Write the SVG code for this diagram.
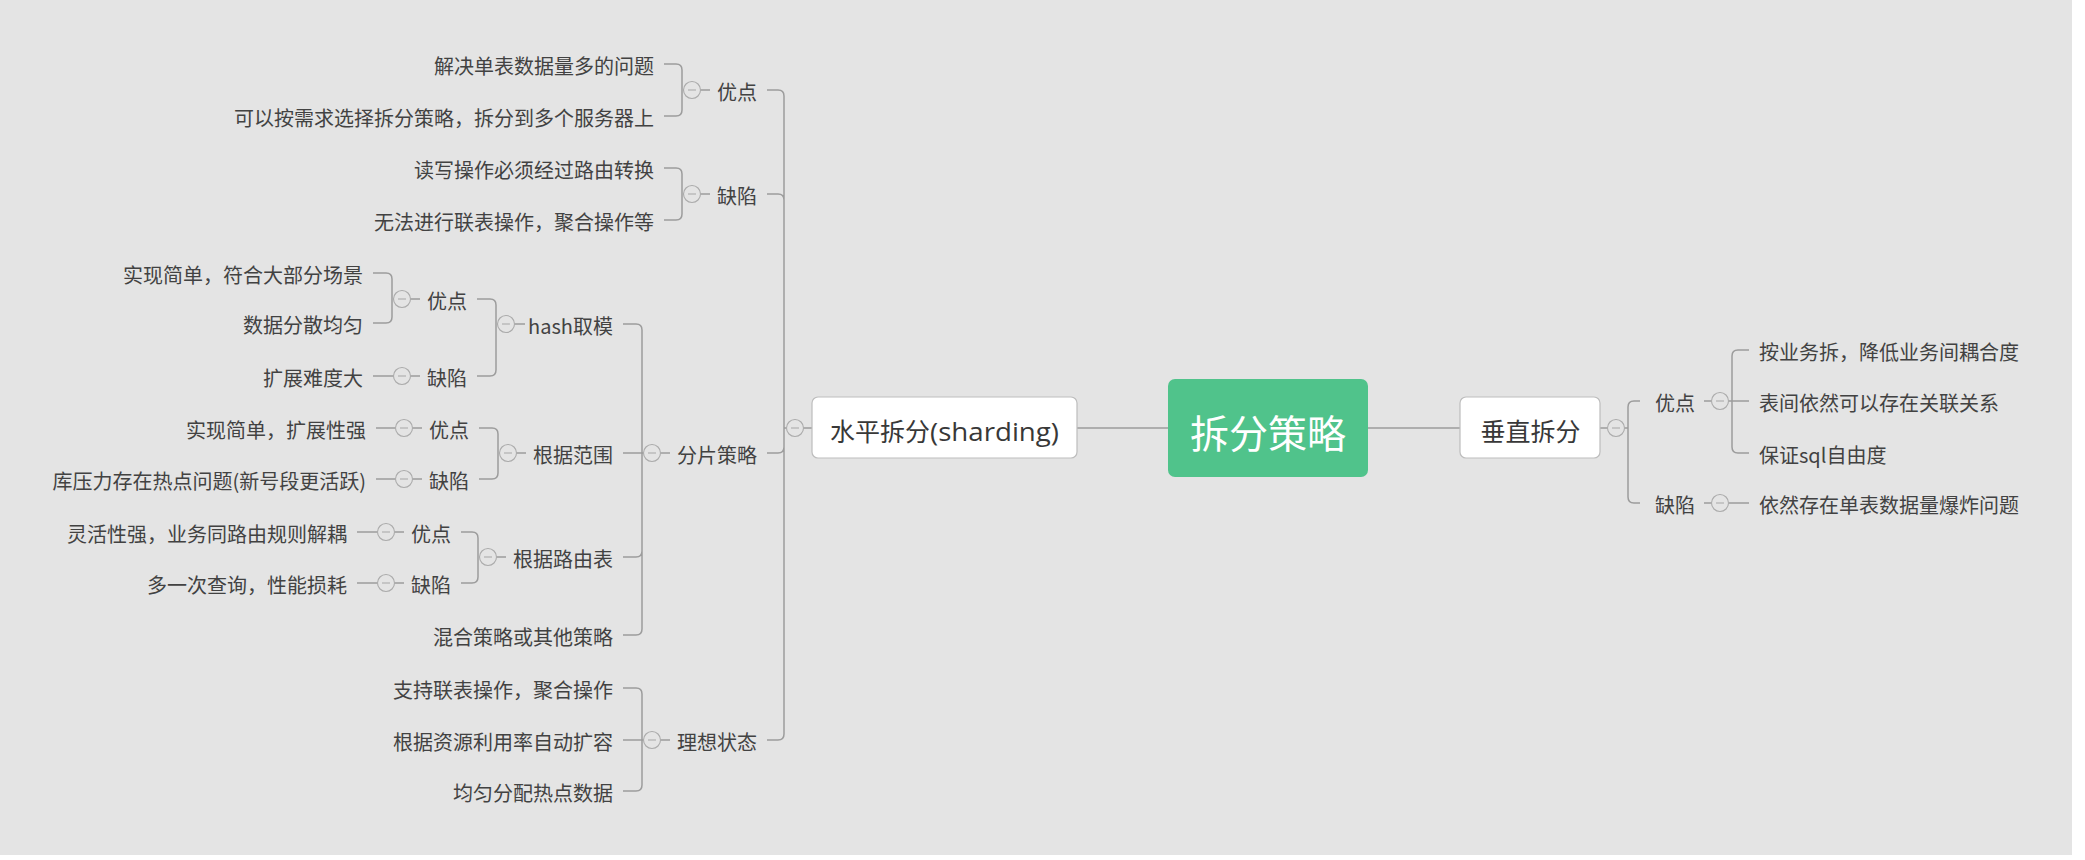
<svg xmlns="http://www.w3.org/2000/svg" width="2085" height="860" viewBox="0 0 2085 860">
<defs>
<style>
.t{font-family:'Noto Sans CJK SC','Noto Sans',sans-serif;font-size:20px;fill:#424242}
.e{text-anchor:end}
.box{fill:#fff;stroke:#bdbdbd;stroke-width:1.2}
.bt{font-family:'Noto Sans CJK SC','Noto Sans',sans-serif;font-size:25px;fill:#383838;text-anchor:middle}
.c{fill:#e4e4e4;stroke:#ababab;stroke-width:1.1}
.m{stroke:#ababab;stroke-width:1.1}
#links path{fill:none;stroke:#9c9c9c;stroke-width:1.5}
</style>
<g id="col"><circle class="c" cx="0" cy="0" r="8.5"/><path class="m" d="M-4 0H4"/></g>
</defs>
<rect x="0" y="0" width="2085" height="860" fill="#fff"/>
<rect x="0" y="0" width="2072" height="855" fill="#e4e4e4"/>

<g id="links">
<!-- center -->
<path d="M1077 428H1168M1368 428H1460"/>
<!-- main left trunk -->
<path d="M767 90H778Q784 90 784 96V428M767 194H778Q784 194 784 200V428M767 453H778Q784 453 784 447V428M767 740H778Q784 740 784 734V428M784 428H786.5M803.5 428H812"/>
<!-- A1 youdian -->
<path d="M664 64H676Q682 64 682 70V90M664 116H676Q682 116 682 110V90M700.5 90H710"/>
<!-- A2 quexian -->
<path d="M664 168H676Q682 168 682 174V194M664 220H676Q682 220 682 214V194M700.5 194H710"/>
<!-- A3 fenpian -->
<path d="M623 324H636Q642 324 642 330V453M623 453H643.5M623 557H636Q642 557 642 551V453M623 635H636Q642 635 642 629V453M660.5 453H670"/>
<!-- B1 hash -->
<path d="M477 299H490Q496 299 496 305V324M477 376H490Q496 376 496 370V324M514.5 324H525"/>
<path d="M373 273H386Q392 273 392 279V299M373 323H386Q392 323 392 317V299M410.5 299H420"/>
<path d="M373 376H393.5M410.5 376H420"/>
<!-- B2 range -->
<path d="M479 428H492Q498 428 498 434V453M479 479H492Q498 479 498 473V453M516.5 453H526"/>
<path d="M376 428H395.5M412.5 428H422M376 479H395.5M412.5 479H422"/>
<!-- B3 route -->
<path d="M461 532H472Q478 532 478 538V557M461 583H472Q478 583 478 577V557M496.5 557H506"/>
<path d="M357 532H377.5M394.5 532H404M357 583H377.5M394.5 583H404"/>
<!-- A4 ideal -->
<path d="M623 688H636Q642 688 642 694V740M623 740H643.5M623 791H636Q642 791 642 785V740M660.5 740H670"/>
<!-- right side -->
<path d="M1600 428H1607.5M1624.5 428H1628M1640 401H1634Q1628 401 1628 407V428M1640 503H1634Q1628 503 1628 497V428"/>
<path d="M1704 401H1711.5M1728.5 401H1732M1749 350H1738Q1732 350 1732 356V401M1749 401H1728.5M1749 453H1738Q1732 453 1732 447V401"/>
<path d="M1704 503H1711.5M1728.5 503H1749"/>
</g>

<g id="root">
<rect x="1168" y="379" width="200" height="98" rx="7" fill="#50c38b"/>
<text x="1268" y="448" font-family="'Noto Sans CJK SC','Noto Sans',sans-serif" font-size="39" fill="#fff" text-anchor="middle">拆分策略</text>
</g>

<g id="n-horizontal">
<rect class="box" x="812" y="397" width="265" height="61" rx="6"/>
<text class="bt" x="944.5" y="441"><tspan>水平拆分</tspan><tspan font-family="'Open Sans','Noto Sans',sans-serif" textLength="129" lengthAdjust="spacingAndGlyphs">(sharding)</tspan></text>
<use href="#col" x="795" y="428"/>
</g>

<g id="n-vertical">
<rect class="box" x="1460" y="397" width="140" height="61" rx="6"/>
<text class="bt" x="1530.5" y="441">垂直拆分</text>
<use href="#col" x="1616" y="428"/>
</g>

<!-- left branch -->
<g id="n-h-adv"><text class="t e" x="757" y="100">优点</text><use href="#col" x="692" y="90"/></g>
<g id="n-h-adv-1"><text class="t e" x="654" y="74">解决单表数据量多的问题</text></g>
<g id="n-h-adv-2"><text class="t e" x="654" y="126">可以按需求选择拆分策略，拆分到多个服务器上</text></g>

<g id="n-h-dis"><text class="t e" x="757" y="204">缺陷</text><use href="#col" x="692" y="194"/></g>
<g id="n-h-dis-1"><text class="t e" x="654" y="178">读写操作必须经过路由转换</text></g>
<g id="n-h-dis-2"><text class="t e" x="654" y="230">无法进行联表操作，聚合操作等</text></g>

<g id="n-shard"><text class="t e" x="757" y="463">分片策略</text><use href="#col" x="652" y="453"/></g>

<g id="n-hash"><text class="t e" x="613" y="334">hash取模</text><use href="#col" x="506" y="324"/></g>
<g id="n-hash-adv"><text class="t e" x="467" y="309">优点</text><use href="#col" x="402" y="299"/></g>
<g id="n-hash-adv-1"><text class="t e" x="363" y="283">实现简单，符合大部分场景</text></g>
<g id="n-hash-adv-2"><text class="t e" x="363" y="333">数据分散均匀</text></g>
<g id="n-hash-dis"><text class="t e" x="467" y="386">缺陷</text><use href="#col" x="402" y="376"/></g>
<g id="n-hash-dis-1"><text class="t e" x="363" y="386">扩展难度大</text></g>

<g id="n-range"><text class="t e" x="613" y="463">根据范围</text><use href="#col" x="508" y="453"/></g>
<g id="n-range-adv"><text class="t e" x="469" y="438">优点</text><use href="#col" x="404" y="428"/></g>
<g id="n-range-adv-1"><text class="t e" x="366" y="438">实现简单，扩展性强</text></g>
<g id="n-range-dis"><text class="t e" x="469" y="489">缺陷</text><use href="#col" x="404" y="479"/></g>
<g id="n-range-dis-1"><text class="t e" x="366" y="489">库压力存在热点问题(新号段更活跃)</text></g>

<g id="n-route"><text class="t e" x="613" y="567">根据路由表</text><use href="#col" x="488" y="557"/></g>
<g id="n-route-adv"><text class="t e" x="451" y="542">优点</text><use href="#col" x="386" y="532"/></g>
<g id="n-route-adv-1"><text class="t e" x="347" y="542">灵活性强，业务同路由规则解耦</text></g>
<g id="n-route-dis"><text class="t e" x="451" y="593">缺陷</text><use href="#col" x="386" y="583"/></g>
<g id="n-route-dis-1"><text class="t e" x="347" y="593">多一次查询，性能损耗</text></g>

<g id="n-mixed"><text class="t e" x="613" y="645">混合策略或其他策略</text></g>

<g id="n-ideal"><text class="t e" x="757" y="750">理想状态</text><use href="#col" x="652" y="740"/></g>
<g id="n-ideal-1"><text class="t e" x="613" y="698">支持联表操作，聚合操作</text></g>
<g id="n-ideal-2"><text class="t e" x="613" y="750">根据资源利用率自动扩容</text></g>
<g id="n-ideal-3"><text class="t e" x="613" y="801">均匀分配热点数据</text></g>

<!-- right branch -->
<g id="n-v-adv"><text class="t" x="1655" y="411">优点</text><use href="#col" x="1720" y="401"/></g>
<g id="n-v-adv-1"><text class="t" x="1759" y="360">按业务拆，降低业务间耦合度</text></g>
<g id="n-v-adv-2"><text class="t" x="1759" y="411">表间依然可以存在关联关系</text></g>
<g id="n-v-adv-3"><text class="t" x="1759" y="463">保证sql自由度</text></g>
<g id="n-v-dis"><text class="t" x="1655" y="513">缺陷</text><use href="#col" x="1720" y="503"/></g>
<g id="n-v-dis-1"><text class="t" x="1759" y="513">依然存在单表数据量爆炸问题</text></g>
</svg>
